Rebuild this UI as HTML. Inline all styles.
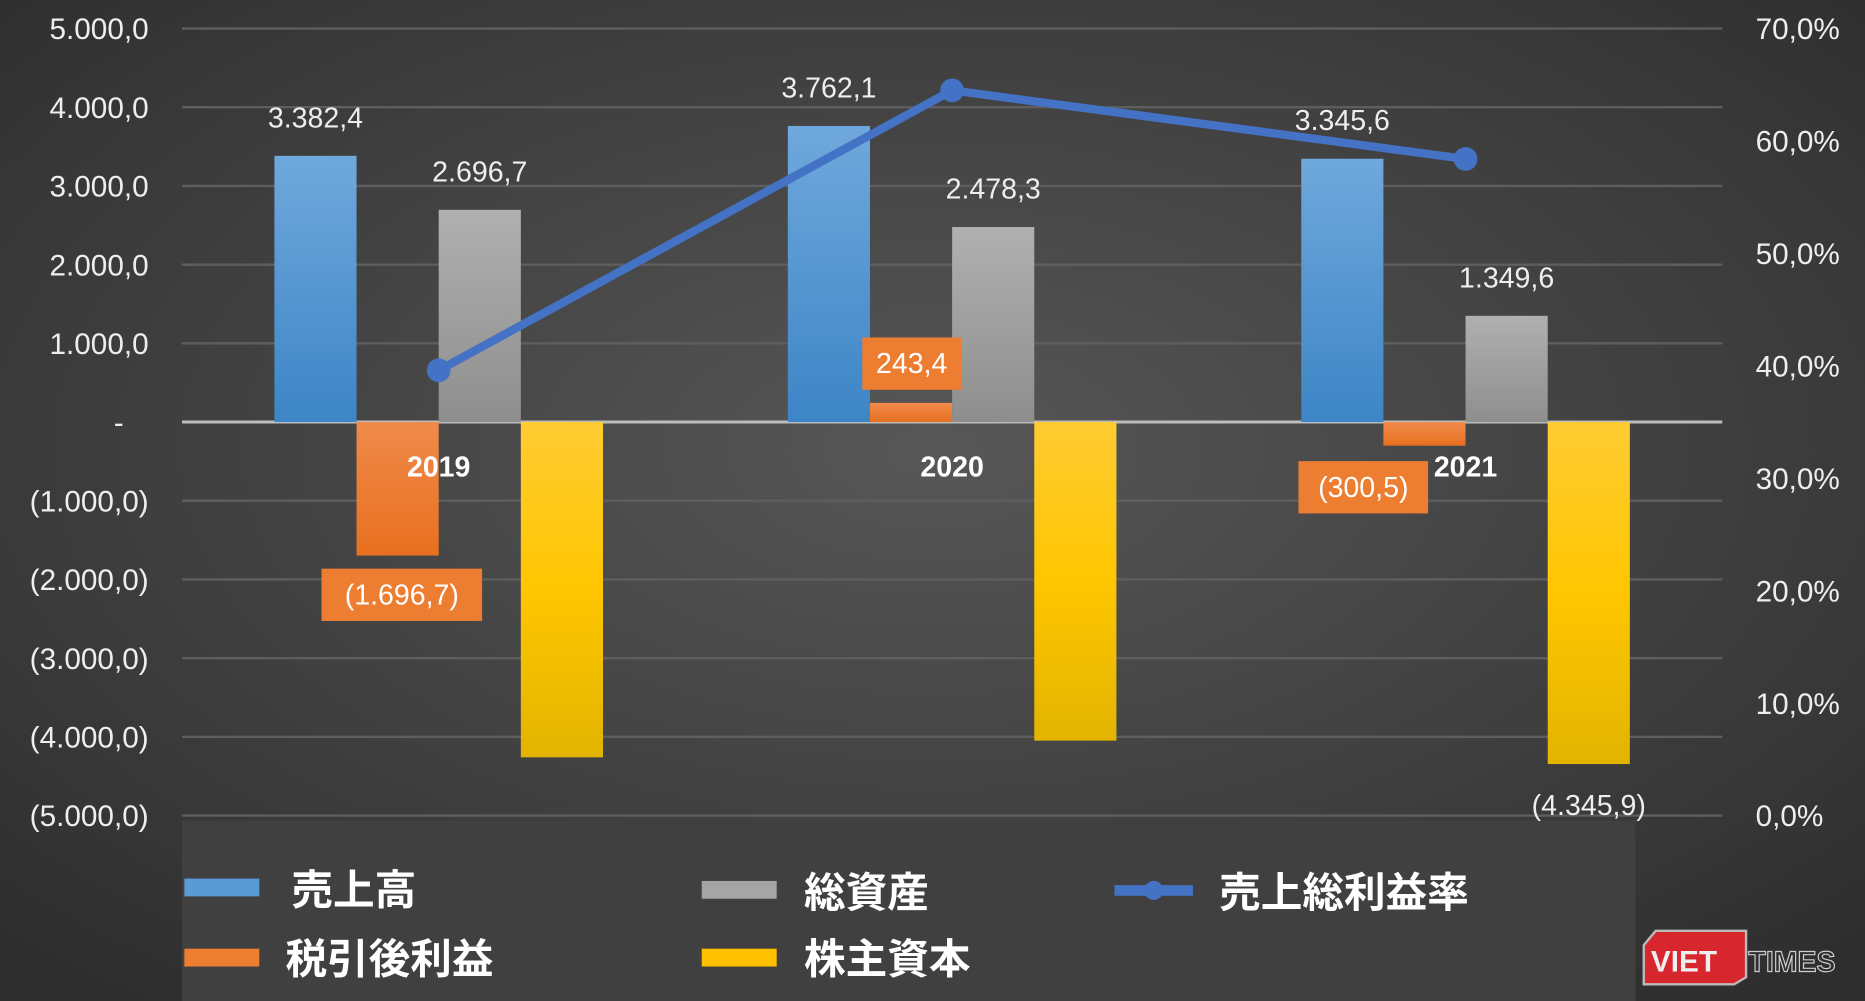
<!DOCTYPE html>
<html><head><meta charset="utf-8">
<style>
html,body{margin:0;padding:0;background:#3c3c3c;}
svg{display:block;}
text{font-family:"Liberation Sans","Noto Sans CJK JP",sans-serif;}
</style></head>
<body>
<svg id="chart" width="1865" height="1001" viewBox="0 0 1568 842" preserveAspectRatio="none" xmlns="http://www.w3.org/2000/svg">
<defs>
<radialGradient id="bg" cx="0.5" cy="0.45" r="0.7">
<stop offset="0" stop-color="#575757"/><stop offset="1" stop-color="#2e2e2e"/>
</radialGradient>
<linearGradient id="gBlue" x1="0" y1="0" x2="0" y2="1"><stop offset="0" stop-color="#6fa8dc"/><stop offset="1" stop-color="#3d85c6"/></linearGradient>
<linearGradient id="gGray" x1="0" y1="0" x2="0" y2="1"><stop offset="0" stop-color="#b0b0b0"/><stop offset="1" stop-color="#8e8e8e"/></linearGradient>
<linearGradient id="gOrange" x1="0" y1="0" x2="0" y2="1"><stop offset="0" stop-color="#f08a4b"/><stop offset="1" stop-color="#e8701f"/></linearGradient>
<linearGradient id="gYellow" x1="0" y1="0" x2="0" y2="1"><stop offset="0" stop-color="#ffcc33"/><stop offset="0.5" stop-color="#ffc600"/><stop offset="1" stop-color="#e2b400"/></linearGradient>
</defs>
<rect x="0" y="0" width="1568" height="842" fill="url(#bg)"/>
<rect x="153" y="690" width="1222" height="152" fill="#404040"/>
<g id="grid"></g>
<g id="bars"></g>
<g id="line"></g>
<g id="labels"></g>
<g id="legend">
  <rect x="155" y="739" width="63" height="15" fill="#5b9bd5"/>
  <text x="245" y="761" font-size="35" font-weight="bold" fill="#fff">売上高</text>
  <rect x="590" y="741" width="63" height="15" fill="#a5a5a5"/>
  <text x="676" y="763" font-size="35" font-weight="bold" fill="#fff">総資産</text>
  <line x1="937" y1="749" x2="1003" y2="749" stroke="#4472c4" stroke-width="9"/>
  <circle cx="970" cy="749" r="8" fill="#4472c4"/>
  <text x="1025" y="763" font-size="35" font-weight="bold" fill="#fff">売上総利益率</text>
  <rect x="155" y="798" width="63" height="15" fill="#ed7d31"/>
  <text x="240" y="819" font-size="35" font-weight="bold" fill="#fff">税引後利益</text>
  <rect x="590" y="798" width="63" height="15" fill="#ffc000"/>
  <text x="676" y="819" font-size="35" font-weight="bold" fill="#fff">株主資本</text>
</g>
<g>
  <polygon points="1382,795 1392,783 1468,783 1468,822 1458,828 1382,828" fill="#d8262f" stroke="#bbb" stroke-width="2"/>
  <text x="1388" y="817" font-size="25" font-weight="bold" fill="#eee">VIET</text>
  <text x="1470" y="817" font-size="24" font-weight="bold" fill="none" stroke="#ccc" stroke-width="1">TIMES</text>
</g>
<script>
var categories = ["2019","2020","2021"];
var sales = [3382.4, 3762.1, 3345.6];
var netIncome = [-1696.7, 243.4, -300.5];
var assets = [2696.7, 2478.3, 1349.6];
var equity = [-4260, -4048, -4345.9];
var margin = [39.6, 64.5, 58.4];
var salesLabels = ["3.382,4","3.762,1","3.345,6"];
var netLabels = ["(1.696,7)","243,4","(300,5)"];
var assetLabels = ["2.696,7","2.478,3","1.349,6"];
var equityLabels = ["","","(4.345,9)"];
var leftTicks = [5000,4000,3000,2000,1000,0,-1000,-2000,-3000,-4000,-5000];
var leftTickLabels = ["5.000,0","4.000,0","3.000,0","2.000,0","1.000,0","-","(1.000,0)","(2.000,0)","(3.000,0)","(4.000,0)","(5.000,0)"];
var rightTicks = [70,60,50,40,30,20,10,0];
var rightTickLabels = ["70,0%","60,0%","50,0%","40,0%","30,0%","20,0%","10,0%","0,0%"];

var NS="http://www.w3.org/2000/svg";
var X0=153, X1=1448, TOP=24, BOT=686;
function yL(v){return TOP+(5000-v)/10000*(BOT-TOP);}
function yR(v){return TOP+(70-v)/70*(BOT-TOP);}
var cw=(X1-X0)/categories.length;
function xC(i){return X0+cw*(i+0.5);}
var bw=cw*0.16;
function mk(tag,attrs,parent){var e=document.createElementNS(NS,tag);for(var k in attrs)e.setAttribute(k,attrs[k]);document.getElementById(parent).appendChild(e);return e;}

leftTicks.forEach(function(v,i){
  var l=mk('line',{x1:X0,x2:X1,y1:yL(v),y2:yL(v),stroke:v===0?'#bdbdbd':'#5e5e5e','stroke-width':v===0?2.5:2},'grid');
  
  
  var t=mk('text',{x:v===0?104:125,y:yL(v)+9,'font-size':25,fill:'#eee','text-anchor':'end'},'grid');
  t.textContent=leftTickLabels[i];
  
  
});
rightTicks.forEach(function(v,i){
  var t=mk('text',{x:1476,y:yR(v)+9,'font-size':25,fill:'#eee'},'grid');
  t.textContent=rightTickLabels[i];
  
  
});

var series=[[sales,'url(#gBlue)','bar-sales'],[netIncome,'url(#gOrange)','bar-net-income'],[assets,'url(#gGray)','bar-assets'],[equity,'url(#gYellow)','bar-equity']];
categories.forEach(function(c,i){
  series.forEach(function(s,j){
    var x=xC(i)-2*bw+j*bw, v=s[0][i];
    var y1=Math.min(yL(v),yL(0)), h=Math.abs(yL(v)-yL(0));
    var r=mk('rect',{x:x,y:y1,width:bw,height:h,fill:s[1]},'bars');
    
    
  });
  var yt=mk('text',{x:xC(i),y:yL(0)+46,'font-size':24,'font-weight':'bold',fill:'#fff','text-anchor':'middle'},'labels');
  yt.textContent=c;
  
  
  var t1=mk('text',{x:xC(i)-1.5*bw,y:yL(sales[i])-24,'font-size':24,fill:'#eee','text-anchor':'middle'},'labels');
  t1.textContent=salesLabels[i];
  
  
  var t2=mk('text',{x:xC(i)+0.5*bw,y:yL(assets[i])-24,'font-size':24,fill:'#eee','text-anchor':'middle'},'labels');
  t2.textContent=assetLabels[i];
  
  
  if(equityLabels[i]){
    var t3=mk('text',{x:xC(i)+1.5*bw,y:yL(equity[i])+43,'font-size':24,fill:'#eee','text-anchor':'middle'},'labels');
    t3.textContent=equityLabels[i];
    
    
  }
});
var netBoxCx=[xC(0)-31, xC(1)-34, xC(2)-86];
var netBoxCy=[yL(netIncome[0])+33, yL(netIncome[1])-33, yL(netIncome[2])+35];
categories.forEach(function(c,i){
  var w=netLabels[i].length*13+18;
  var b=mk('rect',{x:netBoxCx[i]-w/2,y:netBoxCy[i]-22,width:w,height:44,fill:'#ed7d31'},'labels');
  
  
  var t=mk('text',{x:netBoxCx[i],y:netBoxCy[i]+8,'font-size':24,fill:'#fff','text-anchor':'middle'},'labels');
  t.textContent=netLabels[i];
  
  
});
var pts=margin.map(function(v,i){return xC(i)+','+yR(v);}).join(' ');
var pl=mk('polyline',{points:pts,fill:'none',stroke:'#4472c4','stroke-width':7,'stroke-linejoin':'round'},'line');


margin.forEach(function(v,i){
  var c=mk('circle',{cx:xC(i),cy:yR(v),r:10,fill:'#4472c4'},'line');
  
  
});
</script>
</svg>
</body></html>
